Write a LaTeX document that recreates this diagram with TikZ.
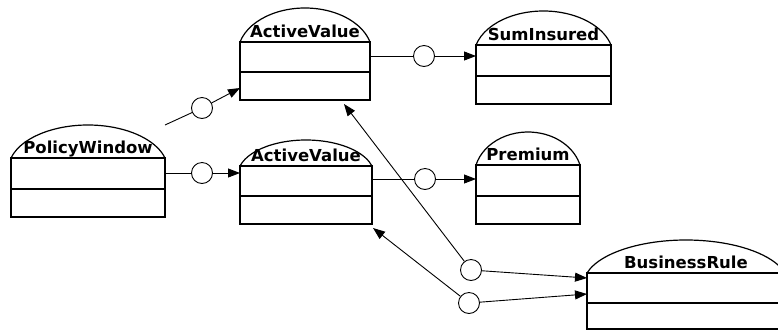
\documentclass[tikz,border=0pt]{standalone}
\usepackage{fontspec}
\setmainfont{DejaVu Sans}
\usetikzlibrary{calc,arrows.meta}
\tikzset{
  boxline/.style={line width=1.2pt, line join=miter},
  classbody/.style={draw, boxline, rectangle, inner sep=0pt, outer sep=0pt},
  classlabel/.style={font=\bfseries\fontsize{16.5}{19}\selectfont, anchor=base, inner sep=0pt},
  assoc/.style={draw, circle, line width=0.9pt, minimum size=21pt, inner sep=0pt, fill=white},
  conn/.style={line width=0.9pt},
  arr/.style={conn, -{Triangle[length=12pt,width=9pt]}}
}
% name, label, left, right, dometop, header, middle, bottom
\newcommand\umlclass[8]{%
  \pgfmathsetmacro\clsw{#4-#3}%
  \pgfmathsetmacro\clsh{#8-#6}%
  \pgfmathsetmacro\clsrx{(#4-#3)/2/cos(15)}%
  \pgfmathsetmacro\clsry{(#6-#5)/(1-sin(15))}%
  \node[classbody, minimum width=\clsw pt, minimum height=\clsh pt] (#1) at ({(#3+#4)/2},{-(#6+#8)/2}) {};
  \draw[boxline] (#1.west |- 0,-#7) -- (#1.east |- 0,-#7);
  \draw[boxline] (#1.north west) arc[start angle=165, end angle=15, x radius=\clsrx pt, y radius=\clsry pt];
  \node[classlabel] (#1-label) at ({(#3+#4)/2},{-#6+5}) {#2};
  \coordinate (#1-ne) at (#4,-#5);
}
\begin{document}
\begin{tikzpicture}[x=1pt,y=1pt]
\useasboundingbox (0,0) rectangle (778,-333);
\umlclass{PW}{PolicyWindow}{11}{165}{125}{158}{189}{217}
\umlclass{AV1}{ActiveValue}{240}{370}{8}{42}{72}{100}
\umlclass{AV2}{ActiveValue}{240}{372}{140}{166}{196}{224}
\umlclass{SI}{SumInsured}{476}{611}{11}{45}{76}{104}
\umlclass{PR}{Premium}{476}{580}{132}{165}{196}{224}
\umlclass{BR}{BusinessRule}{587}{785}{240}{273}{303}{329}

\node[assoc] (c1) at (202,-108) {};
\node[assoc] (c2) at (202,-173) {};
\node[assoc] (c3) at (424,-56) {};
\node[assoc] (c4) at (425,-179) {};
\node[assoc] (c5) at (471,-270) {};
\node[assoc] (c6) at (469,-303) {};

\draw[conn] (PW-ne) -- (c1);
\draw[arr] (c1) -- ($(AV1.north west)+(0,-46)$);
\draw[conn] (PW.east |- c2) -- (c2);
\draw[arr] (c2) -- (c2 -| AV2.west);
\draw[conn] (AV1.east |- c3) -- (c3);
\draw[arr] (c3) -- (c3 -| SI.west);
\draw[conn] (AV2.east |- c4) -- (c4);
\draw[arr] (c4) -- (c4 -| PR.west);
\draw[arr] (c5) -- ($(AV1.south)+(39,-4)$);
\draw[arr] (c6) -- ($(AV2.south east)+(1,-4)$);
\draw[arr] (c5) -- ($(BR.north west)+(0,-5)$);
\draw[arr] (c6) -- ($(BR.north west)+(0,-21)$);
\end{tikzpicture}
\end{document}
